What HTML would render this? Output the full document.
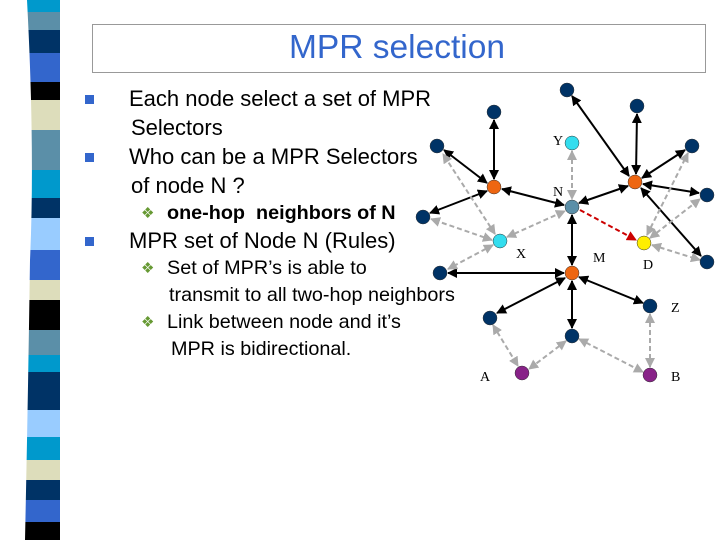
<!DOCTYPE html>
<html><head><meta charset="utf-8"><style>
body{margin:0;width:720px;height:540px;overflow:hidden;background:#fff;position:relative;font-family:"Liberation Sans",sans-serif}
.t{position:absolute;white-space:nowrap;color:#000}
.b{font-size:22px}
.s{font-size:19.8px}
.sq{position:absolute;width:9px;height:9px;background:#3366cc}
.d{position:absolute;color:#669933;font-size:15px}
</style></head><body>
<svg width="720" height="540" style="position:absolute;left:0;top:0">
<defs>
<marker id="ak" viewBox="0 0 10 10" refX="9" refY="5" markerWidth="5" markerHeight="5" orient="auto-start-reverse"><path d="M0,0L10,5L0,10z" fill="#000"/></marker>
<marker id="ag" viewBox="0 0 10 10" refX="9" refY="5" markerWidth="5" markerHeight="5" orient="auto-start-reverse"><path d="M0,0L10,5L0,10z" fill="#aaa"/></marker>
<marker id="ar" viewBox="0 0 10 10" refX="9" refY="5" markerWidth="5" markerHeight="5" orient="auto-start-reverse"><path d="M0,0L10,5L0,10z" fill="#cc0000"/></marker>
<clipPath id="cp"><path d="M27,0 L60,0 L60,540 L25,540 Q28,400 30,260 Q35,150 27,0z"/></clipPath>
</defs>
<g clip-path="url(#cp)">
<rect x="0" y="0" width="60" height="12" fill="#0099cc"/>
<rect x="0" y="12" width="60" height="18" fill="#5b8fa8"/>
<rect x="0" y="30" width="60" height="23" fill="#003366"/>
<rect x="0" y="53" width="60" height="29" fill="#3366cc"/>
<rect x="0" y="82" width="60" height="18" fill="#000"/>
<rect x="0" y="100" width="60" height="30" fill="#ddddbb"/>
<rect x="0" y="130" width="60" height="40" fill="#5b8fa8"/>
<rect x="0" y="170" width="60" height="28" fill="#0099cc"/>
<rect x="0" y="198" width="60" height="20" fill="#003366"/>
<rect x="0" y="218" width="60" height="32" fill="#99ccff"/>
<rect x="0" y="250" width="60" height="30" fill="#3366cc"/>
<rect x="0" y="280" width="60" height="20" fill="#ddddbb"/>
<rect x="0" y="300" width="60" height="30" fill="#000"/>
<rect x="0" y="330" width="60" height="25" fill="#5b8fa8"/>
<rect x="0" y="355" width="60" height="17" fill="#0099cc"/>
<rect x="0" y="372" width="60" height="38" fill="#003366"/>
<rect x="0" y="410" width="60" height="27" fill="#99ccff"/>
<rect x="0" y="437" width="60" height="23" fill="#0099cc"/>
<rect x="0" y="460" width="60" height="20" fill="#ddddbb"/>
<rect x="0" y="480" width="60" height="20" fill="#003366"/>
<rect x="0" y="500" width="60" height="22" fill="#3366cc"/>
<rect x="0" y="522" width="60" height="18" fill="#000"/>
</g>
<rect x="92.5" y="24.5" width="613" height="48" fill="none" stroke="#999" stroke-width="1"/>
<g stroke="#000" stroke-width="2" marker-start="url(#ak)" marker-end="url(#ak)">
<line x1="494" y1="179" x2="494" y2="120"/>
<line x1="487" y1="183" x2="444" y2="150"/>
<line x1="487" y1="191" x2="430" y2="213"/>
<line x1="502" y1="189" x2="564" y2="205"/>
<line x1="629" y1="176" x2="572" y2="96"/>
<line x1="636" y1="174" x2="637" y2="114"/>
<line x1="642" y1="178" x2="685" y2="150"/>
<line x1="643" y1="184" x2="699" y2="193"/>
<line x1="641" y1="188" x2="701" y2="256"/>
<line x1="628" y1="186" x2="579" y2="203"/>
<line x1="572" y1="215" x2="572" y2="265"/>
<line x1="564" y1="273" x2="448" y2="273"/>
<line x1="565" y1="278" x2="497" y2="313"/>
<line x1="572" y1="281" x2="572" y2="328"/>
<line x1="579" y1="277" x2="643" y2="303"/>
</g>
<g stroke="#aaa" stroke-width="2" stroke-dasharray="5,3" marker-start="url(#ag)" marker-end="url(#ag)">
<line x1="572" y1="151" x2="572" y2="199"/>
<line x1="507" y1="237" x2="565" y2="211"/>
<line x1="495" y1="234" x2="443" y2="154"/>
<line x1="492" y1="240" x2="431" y2="219"/>
<line x1="493" y1="245" x2="448" y2="269"/>
<line x1="647" y1="235" x2="688" y2="153"/>
<line x1="650" y1="238" x2="700" y2="199"/>
<line x1="652" y1="245" x2="700" y2="260"/>
<line x1="650" y1="314" x2="650" y2="367"/>
<line x1="579" y1="339" x2="643" y2="372"/>
<line x1="566" y1="341" x2="529" y2="369"/>
<line x1="493" y1="325" x2="518" y2="366"/>
</g>
<line x1="580" y1="210" x2="636" y2="240" stroke="#cc0000" stroke-width="2" stroke-dasharray="5,3" marker-end="url(#ar)"/>
<g stroke="#333" stroke-width="0.5">
<g fill="#003366">
<circle cx="567" cy="90" r="7"/><circle cx="637" cy="106" r="7"/><circle cx="494" cy="112" r="7"/>
<circle cx="437" cy="146" r="7"/><circle cx="692" cy="146" r="7"/><circle cx="707" cy="195" r="7"/>
<circle cx="423" cy="217" r="7"/><circle cx="707" cy="262" r="7"/><circle cx="440" cy="273" r="7"/>
<circle cx="650" cy="306" r="7"/><circle cx="490" cy="318" r="7"/><circle cx="572" cy="336" r="7"/>
</g>
<g fill="#ee6611"><circle cx="494" cy="187" r="7"/><circle cx="635" cy="182" r="7"/><circle cx="572" cy="273" r="7"/></g>
<circle cx="572" cy="207" r="7" fill="#5b8fa8"/>
<circle cx="572" cy="143" r="7" fill="#33ddee"/>
<circle cx="500" cy="241" r="7" fill="#33ddee"/>
<circle cx="644" cy="243" r="7" fill="#ffee00"/>
<circle cx="522" cy="373" r="7" fill="#882288"/>
<circle cx="650" cy="375" r="7" fill="#882288"/>
</g>
<g font-family="Liberation Serif,serif" font-size="14" fill="#000">
<text x="553" y="145">Y</text><text x="553" y="196">N</text><text x="516" y="258">X</text>
<text x="593" y="262">M</text><text x="643" y="269">D</text><text x="671" y="312">Z</text>
<text x="480" y="381">A</text><text x="671" y="381">B</text>
</g>
</svg>
<div class="t" style="left:289px;top:29px;font-size:33.5px;color:#3366cc">MPR selection</div>
<div class="sq" style="left:85px;top:95px"></div>
<div class="t b" style="left:129px;top:86px">Each node select a set of MPR</div>
<div class="t b" style="left:131px;top:115px">Selectors</div>
<div class="sq" style="left:85px;top:153px"></div>
<div class="t b" style="left:129px;top:144px">Who can be a MPR Selectors</div>
<div class="t b" style="left:131px;top:173px">of node N ?</div>
<div class="d" style="left:141px;top:204px">❖</div>
<div class="t s" style="left:167px;top:202px;font-weight:bold">one-hop&nbsp; neighbors of N</div>
<div class="sq" style="left:85px;top:237px"></div>
<div class="t b" style="left:129px;top:228px">MPR set of Node N (Rules)</div>
<div class="d" style="left:141px;top:259px">❖</div>
<div class="t s" style="left:167px;top:257px">Set of MPR’s is able to</div>
<div class="t s" style="left:169px;top:284px">transmit to all two-hop neighbors</div>
<div class="d" style="left:141px;top:313px">❖</div>
<div class="t s" style="left:167px;top:311px">Link between node and it’s</div>
<div class="t s" style="left:171px;top:338px">MPR is bidirectional.</div>
</body></html>
